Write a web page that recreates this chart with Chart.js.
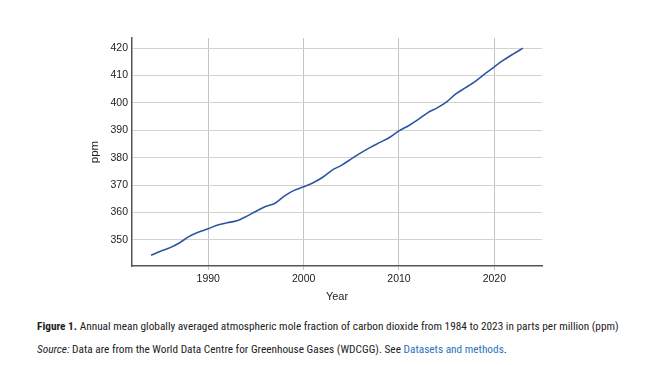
<!DOCTYPE html>
<html>
<head>
<meta charset="utf-8">
<script src="https://cdn.jsdelivr.net/npm/chart.js@4"></script>
<style>
  html, body { margin: 0; padding: 0; background: #fff; }
  body { width: 656px; height: 365px; position: relative; overflow: hidden; }
  #wrap { position: absolute; left: 0; top: 0; width: 656px; height: 310px; }
  .cap { position: absolute; left: 37px; font-family: "Liberation Sans Narrow", "Roboto Condensed", "Liberation Sans", sans-serif; font-size: 11.3px; color: #222; white-space: nowrap; }
  #cap1 { top: 320px; }
  #cap2 { top: 343px; }
  .cap a { color: #2a72c0; text-decoration: none; }
</style>
</head>
<body>
<div id="wrap"><canvas id="co2Chart" width="656" height="310"></canvas></div>
<div class="cap" id="cap1"><b>Figure 1.</b> Annual mean globally averaged atmospheric mole fraction of carbon dioxide from 1984 to 2023 in parts per million (ppm)</div>
<div class="cap" id="cap2"><i>Source:</i> Data are from the World Data Centre for Greenhouse Gases (WDCGG). See <a>Datasets and methods</a>.</div>
<script>
// --- Data ---
const years = [1984, 1985, 1986, 1987, 1988, 1989, 1990, 1991, 1992, 1993,
               1994, 1995, 1996, 1997, 1998, 1999, 2000, 2001, 2002, 2003,
               2004, 2005, 2006, 2007, 2008, 2009, 2010, 2011, 2012, 2013,
               2014, 2015, 2016, 2017, 2018, 2019, 2020, 2021, 2022, 2023];
const co2ppm = [344.4, 345.9, 347.2, 349.0, 351.3, 352.9, 354.1, 355.5, 356.3, 357.0,
                358.6, 360.5, 362.2, 363.4, 366.1, 368.1, 369.4, 370.9, 372.9, 375.5,
                377.3, 379.6, 381.8, 383.8, 385.6, 387.4, 389.8, 391.7, 393.9, 396.4,
                398.2, 400.4, 403.4, 405.6, 407.9, 410.6, 413.2, 415.7, 417.9, 420.0];
const xTicks = [1990, 2000, 2010, 2020];
const yTicks = [350, 360, 370, 380, 390, 400, 410, 420];

const tickFont = { family: "'Liberation Sans', Arial, sans-serif", size: 10.5 };

const ctx = document.getElementById('co2Chart').getContext('2d');
new Chart(ctx, {
    type: 'line',
    data: {
        datasets: [{
            label: 'CO2 (ppm)',
            data: years.map((y, i) => ({ x: y, y: co2ppm[i] })),
            borderColor: '#2b56a2',
            borderWidth: 1.6,
            pointRadius: 0,
            tension: 0.3,
            fill: false
        }]
    },
    options: {
        responsive: false,
        animation: false,
        layout: { padding: { top: 38, right: 114, left: 0, bottom: 0 } },
        plugins: { legend: { display: false }, tooltip: { enabled: false } },
        scales: {
            x: {
                type: 'linear',
                min: 1982,
                max: 2025,
                afterBuildTicks: s => { s.ticks = xTicks.map(v => ({ value: v })); },
                afterFit: s => { s.height = 44; },
                grid: { color: '#c4c4c4', lineWidth: 1, tickLength: 4 },
                border: { color: '#555', width: 1.5 },
                ticks: { color: '#222', font: tickFont, padding: 3, maxRotation: 0, callback: v => String(v) },
                title: { display: true, text: 'Year', color: '#222', font: { family: "'Liberation Sans', Arial, sans-serif", size: 11 }, padding: { top: 0, bottom: 6 } }
            },
            y: {
                min: 340.5,
                max: 423.7,
                afterBuildTicks: s => { s.ticks = yTicks.map(v => ({ value: v })); },
                afterFit: s => { s.width = 132; },
                grid: { color: '#d2d2d2', lineWidth: 1, drawTicks: false },
                border: { color: '#555', width: 1.5 },
                ticks: { color: '#222', font: tickFont, padding: 4, callback: v => String(v) },
                title: { display: true, text: 'ppm', color: '#222', font: { family: "'Liberation Sans', Arial, sans-serif", size: 11.5 }, padding: { top: 88, bottom: 0 } }
            }
        }
    }
});
</script>
</body>
</html>
